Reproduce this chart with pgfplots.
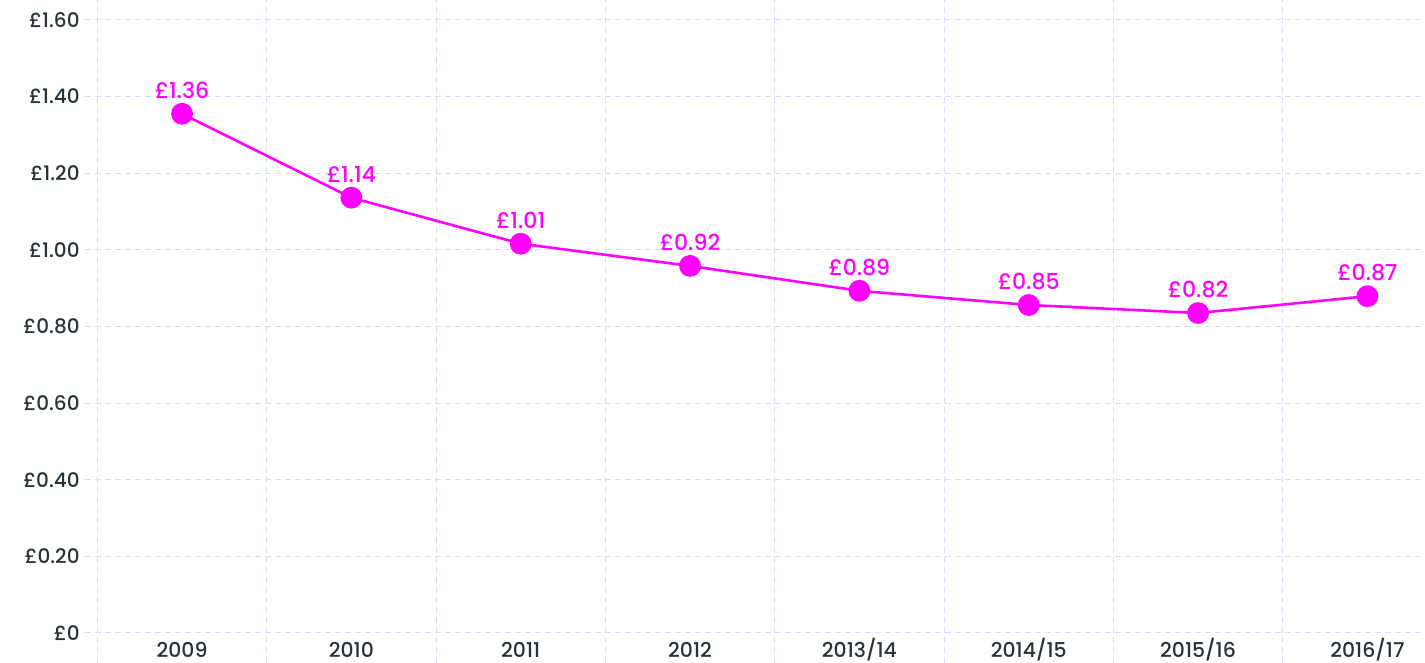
\documentclass[border=0pt]{standalone}
\usepackage{fontspec}
\setmainfont{Poppins Medium}
\usepackage{pgfplots}
\pgfplotsset{compat=1.18}
\definecolor{mag}{RGB}{255,0,255}
\definecolor{txt}{RGB}{40,50,56}
\definecolor{gridc}{RGB}{212,222,250}
\begin{document}
\begin{tikzpicture}
\begin{axis}[
  at={(42.5pt,0pt)}, anchor=south west,
  scale only axis, width=670pt, height=331.5pt,
  xmin=-0.573, xmax=7.34, ymin=-0.0783, ymax=1.652,
  axis line style={draw=none},
  major tick length=0pt, minor tick length=0pt,
  xtick={0,...,7},
  xticklabels={2009,2010,2011,2012,2013/14,2014/15,2015/16,2016/17},
  minor xtick={-0.5,0.5,1.5,2.5,3.5,4.5,5.5,6.5},
  ytick={0,0.2,0.4,0.6,0.8,1.0,1.2,1.4,1.6},
  yticklabels={£0,£0.20,£0.40,£0.60,£0.80,£1.00,£1.20,£1.40,£1.60},
  ymajorgrids, xminorgrids,
  major grid style={gridc, dash pattern=on 3pt off 2pt, line width=0.5pt},
  minor grid style={gridc, dash pattern=on 3pt off 2pt, line width=0.5pt},
  xticklabel style={anchor=center, yshift=6.5pt, text=txt, font=\fontsize{10.2}{12}\selectfont},
  yticklabel style={anchor=east, inner sep=2.5pt, text=txt, font=\fontsize{10}{12}\selectfont},
  clip=false,
]
\addplot[mag, line width=1.3pt, mark=*, mark size=4.8pt,
  mark options={fill=mag, draw=none},
  point meta=explicit symbolic,
  nodes near coords,
  nodes near coords style={anchor=south, inner sep=0pt, yshift=7pt, text=mag, font=\fontsize{11}{12}\selectfont}]
coordinates {
 (0,1.355) [£1.36]
 (1,1.136) [£1.14]
 (2,1.016) [£1.01]
 (3,0.958) [£0.92]
 (4,0.893) [£0.89]
 (5,0.856) [£0.85]
 (6,0.835) [£0.82]
 (7,0.879) [£0.87]
};
\end{axis}
\pgfresetboundingbox
\path[use as bounding box] (0,0) rectangle (712.5pt,331.5pt);
\end{tikzpicture}
\end{document}
